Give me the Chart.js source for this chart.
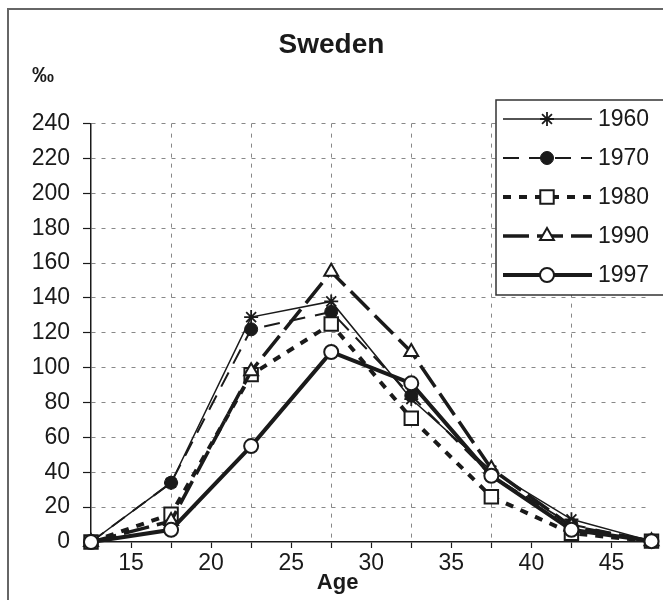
<!DOCTYPE html>
<html>
<head>
<meta charset="utf-8">
<script src="https://cdn.jsdelivr.net/npm/chart.js@4.4.1/dist/chart.umd.min.js"></script>
<style>
  html, body { margin: 0; padding: 0; background: #fff; overflow: hidden; }
  #wrap { position: relative; width: 663px; height: 600px; }
  #frame { position: absolute; left: 7px; top: 8px; width: 720px; height: 640px; border: 2px solid #666; box-sizing: border-box; }
  canvas { position: absolute; left: 0; top: 0; }
</style>
</head>
<body>
<div id="wrap">
  <div id="frame"></div>
  <canvas id="chart" width="663" height="600"></canvas>
</div>
<script>
// ages (mid-point of 5-year groups), rates per mille
const ages = [12.5, 17.5, 22.5, 27.5, 32.5, 37.5, 42.5, 47.5];
const years = ['1960', '1970', '1980', '1990', '1997'];
const r1960 = [0, 34, 129, 138, 82, 41, 13, 0.5];
const r1970 = [0, 34, 122, 132, 84, 38, 10, 0.5];
const r1980 = [0, 16, 96, 125, 71, 26, 5, 0.5];
const r1990 = [0, 12, 98, 155, 109, 42, 9, 0.5];
const r1997 = [0, 7, 55, 109, 91, 38, 7, 0.5];
const yTicks = [0, 20, 40, 60, 80, 100, 120, 140, 160, 180, 200, 220, 240];

const FONT = "'Liberation Sans', Arial, sans-serif";
const INK = '#1a1a1a';

// styling per series
const styles = [
  { width: 1.5, dash: [], point: 'star', radius: 7, fill: INK, pw: 1.8 },
  { width: 2, dash: [16, 10], point: 'circle', radius: 6.5, fill: INK, pw: 1 },
  { width: 4, dash: [8, 8], point: 'rect', radius: 9.5, fill: '#fff', pw: 2 },
  { width: 3.5, dash: [26, 8], point: 'triangle', radius: 8, fill: '#fff', pw: 2 },
  { width: 4, dash: [], point: 'circle', radius: 7, fill: '#fff', pw: 2 }
];
const series = [r1960, r1970, r1980, r1990, r1997];

const datasets = series.map((vals, i) => ({
  label: years[i],
  data: vals.map((v, j) => ({ x: ages[j], y: v })),
  borderColor: INK,
  borderWidth: styles[i].width,
  borderDash: styles[i].dash,
  pointStyle: styles[i].point,
  pointRadius: styles[i].radius,
  pointBackgroundColor: styles[i].fill,
  pointBorderColor: INK,
  pointBorderWidth: styles[i].pw,
  tension: 0,
  clip: false,
  order: series.length - i
}));

// small plugin for the per-mille sign, the Age label and the framed legend
const extras = {
  id: 'extras',
  afterDraw(chart) {
    const ctx = chart.ctx;
    const xs = chart.scales.x;
    ctx.save();
    ctx.fillStyle = INK;
    ctx.font = 'bold 22px ' + FONT;
    ctx.textAlign = 'left';
    ctx.textBaseline = 'alphabetic';
    ctx.fillText('‰', 32, 82);

    ctx.font = 'bold 22px ' + FONT;
    ctx.textAlign = 'center';
    ctx.fillText('Age', xs.getPixelForValue(27.9), 589);

    // legend box
    const bx = 496, by = 100, bb = 295;
    ctx.fillStyle = '#fff';
    ctx.fillRect(bx, by, 300, bb - by);
    ctx.strokeStyle = '#333';
    ctx.lineWidth = 1.5;
    ctx.strokeRect(bx, by, 300, bb - by);

    years.forEach((yr, i) => {
      const st = styles[i];
      const y = 119 + i * 39;
      ctx.save();
      ctx.strokeStyle = INK;
      ctx.lineWidth = st.width;
      ctx.setLineDash(st.dash);
      ctx.beginPath();
      ctx.moveTo(503, y);
      ctx.lineTo(592, y);
      ctx.stroke();
      ctx.restore();
      ctx.save();
      ctx.fillStyle = st.fill;
      ctx.strokeStyle = INK;
      ctx.lineWidth = st.pw;
      Chart.helpers.drawPoint(ctx, { pointStyle: st.point, radius: st.radius, rotation: 0, borderWidth: st.pw }, 547, y);
      ctx.restore();
      ctx.fillStyle = INK;
      ctx.font = '23px ' + FONT;
      ctx.textAlign = 'left';
      ctx.textBaseline = 'middle';
      ctx.fillText(yr, 598, y + 1);
    });
    ctx.restore();
  }
};

new Chart(document.getElementById('chart'), {
  type: 'line',
  data: { datasets },
  plugins: [extras],
  options: {
    responsive: false,
    animation: false,
    layout: { padding: { left: 0, right: 0, top: 0, bottom: 0 } },
    plugins: {
      legend: { display: false },
      tooltip: { enabled: false },
      title: {
        display: true,
        text: 'Sweden',
        color: INK,
        font: { family: FONT, size: 28, weight: 'bold', lineHeight: 1.2 },
        padding: { top: 28, bottom: 62 }
      }
    },
    scales: {
      x: {
        type: 'linear',
        min: 12.5,
        max: 47.5,
        afterFit(scale) { scale.height = 58; },
        ticks: {
          stepSize: 2.5,
          autoSkip: false,
          maxRotation: 0,
          padding: 2,
          color: INK,
          font: { family: FONT, size: 23 },
          callback: v => (v % 5 === 0 ? String(v) : '')
        },
        grid: {
          color: c => {
            const v = c.tick ? c.tick.value : 0;
            return (v % 5 !== 0 && v > 13 && v < 47) ? '#888' : 'rgba(0,0,0,0)';
          },
          lineWidth: 1,
          tickColor: INK,
          tickLength: 6,
          tickWidth: 1.2
        },
        border: { display: true, color: INK, width: 1.5, dash: [4, 6] }
      },
      y: {
        min: 0,
        max: 240,
        afterFit(scale) { scale.width = 91; },
        afterBuildTicks(scale) { scale.ticks = yTicks.map(v => ({ value: v })); },
        ticks: {
          padding: 13,
          color: INK,
          font: { family: FONT, size: 23 }
        },
        grid: {
          color: c => (c.tick && c.tick.value === 0 ? 'rgba(0,0,0,0)' : '#888'),
          lineWidth: 1,
          tickColor: INK,
          tickLength: 8,
          tickWidth: 1.2
        },
        border: { display: true, color: INK, width: 1.5, dash: [4, 6] }
      }
    }
  }
});
</script>
</body>
</html>
